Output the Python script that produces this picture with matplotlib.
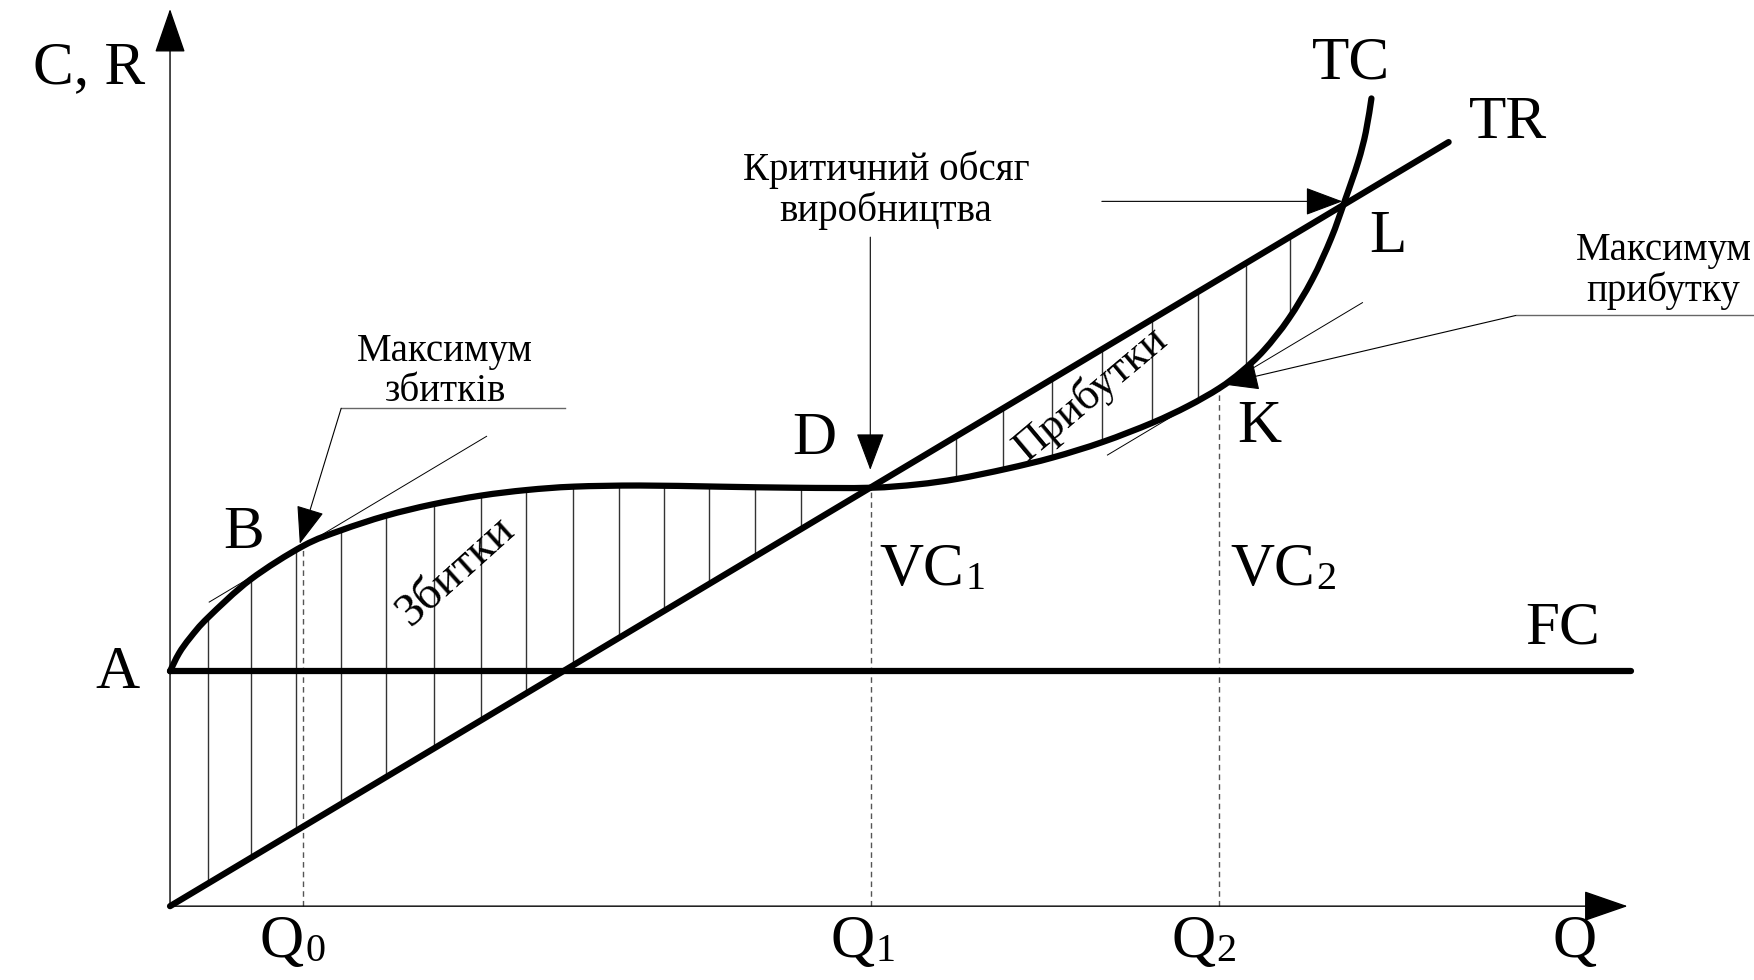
"""Break-even diagram: total cost, total revenue and fixed cost against output."""

import matplotlib

matplotlib.use("Agg")

import matplotlib.pyplot as plt
import numpy as np
from matplotlib.patches import PathPatch
from matplotlib.path import Path

plt.rcParams["font.family"] = ["Liberation Serif", "DejaVu Serif"]

# Output (Q) and cost/revenue (C) values.
TC_Q = [0, 8, 18, 34, 72, 119, 153, 193, 234, 278, 319, 361, 420, 490, 560, 626,
        668, 704, 748, 789, 834, 878, 910, 938, 958, 978, 1000, 1021, 1038, 1050,
        1062, 1069, 1074]
TC_C = [210, 226, 240, 258, 292, 322, 336, 349, 359, 367, 372, 375, 376, 375, 374,
        374, 377, 382, 391, 401, 415, 432, 447, 463, 478, 497, 525, 560, 597, 630,
        665, 692, 722]
TR_Q = [0, 1143]
TR_C = [0, 683]
FC_Q = [0, 1306]
FC_C = [210, 210]

Q_NAMES = ["Q", "Q", "Q"]
Q_SUBS = ["0", "1", "2"]
Q_VALUES = [119, 627, 938]

LOSS_HATCH_Q = [34, 72, 113, 153, 193, 236, 278, 318, 360, 401, 442, 482, 523, 564]
PROFIT_HATCH_Q = [703, 745, 788, 833, 878, 919, 962, 1001]

fig = plt.figure(figsize=(17.54, 9.80), dpi=100)
ax = fig.add_axes([0, 0, 1, 1])
ax.set_xlim(-152, 1416)
ax.set_ylim(-66, 810)
ax.axis("off")

tc = lambda q: np.interp(q, TC_Q, TC_C)
tr = lambda q: np.interp(q, TR_Q, TR_C)
tr_slope = (TR_C[1] - TR_C[0]) / (TR_Q[1] - TR_Q[0])


def smooth_path(xs, ys):
    """Cubic Bezier path passing through the read points (Catmull-Rom handles)."""
    pts = np.column_stack([xs, ys]).astype(float)
    pad = np.vstack([pts[0], pts, pts[-1]])
    verts, codes = [pts[0]], [Path.MOVETO]
    for i in range(len(pts) - 1):
        p0, p1, p2, p3 = pad[i], pad[i + 1], pad[i + 2], pad[i + 3]
        verts += [p1 + (p2 - p0) / 6, p2 - (p3 - p1) / 6, p2]
        codes += [Path.CURVE4] * 3
    return Path(verts, codes)


# axes with arrows
arrow_kw = dict(arrowstyle="-|>,head_length=1.3,head_width=0.45", color="black",
                lw=1.0, shrinkA=0, shrinkB=0, mutation_scale=22)
ax.annotate("", xy=(0, 802), xytext=(0, 0), arrowprops=arrow_kw)
ax.annotate("", xy=(1303, 0), xytext=(0, 0), arrowprops=arrow_kw)

# hatching
for q in LOSS_HATCH_Q:
    ax.plot([q, q], [tr(q), tc(q)], color="#333333", lw=1.0, zorder=2)
for q in PROFIT_HATCH_Q:
    ax.plot([q, q], [tc(q), tr(q)], color="#333333", lw=1.0, zorder=2)

# dashed guides
for q in Q_VALUES:
    ax.plot([q, q], [0, tc(q)], color="#555555", lw=1.0, ls=(0, (4, 3)), zorder=2)

# tangents at B and K
for q0, q1, q in [(35, 283, Q_VALUES[0]), (838, 1066, Q_VALUES[2])]:
    c = tc(q)
    ax.plot([q0, q1], [c + tr_slope * (q0 - q), c + tr_slope * (q1 - q)],
            color="black", lw=0.7, zorder=2)

# main curves
ax.plot(FC_Q, FC_C, color="black", lw=4.5, solid_capstyle="round", zorder=3)
ax.plot(TR_Q, TR_C, color="black", lw=4.5, solid_capstyle="round", zorder=3)
ax.add_patch(PathPatch(smooth_path(TC_Q, TC_C), facecolor="none", edgecolor="black",
                       lw=4.5, capstyle="round", joinstyle="round", zorder=4))

# leaders
lead_kw = dict(arrowstyle="-|>,head_length=1.2,head_width=0.45", color="black",
               lw=0.8, shrinkA=0, shrinkB=0, mutation_scale=20)
ax.plot([153, 353], [445, 445], color="#666666", lw=1.0)
ax.annotate("", xy=(116, tc(Q_VALUES[0]) + 2), xytext=(153, 445), arrowprops=lead_kw)
ax.annotate("", xy=(626, 390), xytext=(626, 598), arrowprops=lead_kw)
ax.annotate("", xy=(1048, 630), xytext=(833, 630), arrowprops=lead_kw)
ax.plot([1203, 1416], [528, 528], color="#666666", lw=1.0)
ax.annotate("", xy=(940, tc(940) + 2), xytext=(1203, 528), arrowprops=lead_kw)

# labels
big = 44
for s, x, y in [("C, R", -72, 749), ("TC", 1056, 753), ("TR", 1196, 700),
                ("L", 1089, 598), ("K", 974, 428), ("D", 576, 417),
                ("B", 66, 333), ("A", -47, 208), ("FC", 1245, 248)]:
    ax.text(x, y, s, fontsize=big, ha="center", va="center")


def sub_label(x, y, main, sub):
    t = ax.text(x, y, main, fontsize=big, ha="left", va="baseline")
    ax.annotate(sub, xy=(1, 0), xycoords=t, xytext=(1, 0),
                textcoords="offset points", fontsize=29, ha="left", va="bottom")


for name, sub, q in zip(Q_NAMES, Q_SUBS, [80, 590, 895]):
    sub_label(q, -45, name, sub)
ax.text(1256, -45, "Q", fontsize=big, ha="center", va="baseline")
sub_label(634, 287, "VC", "1")
sub_label(948, 287, "VC", "2")

note = 28
ax.text(640, 640, "Критичний обсяг\nвиробництва", fontsize=note, ha="center",
        va="center", linespacing=1.1)
ax.text(246, 478, "Максимум\nзбитків", fontsize=note, ha="center", va="center",
        linespacing=1.1)
ax.text(1335, 568, "Максимум\nприбутку", fontsize=note, ha="center", va="center",
        linespacing=1.1)
ax.text(256, 300, "Збитки", fontsize=34, ha="center", va="center", rotation=42)
ax.text(823, 458, "Прибутки", fontsize=32, ha="center", va="center", rotation=40)

fig.savefig("out.png", dpi=100, facecolor="white")
